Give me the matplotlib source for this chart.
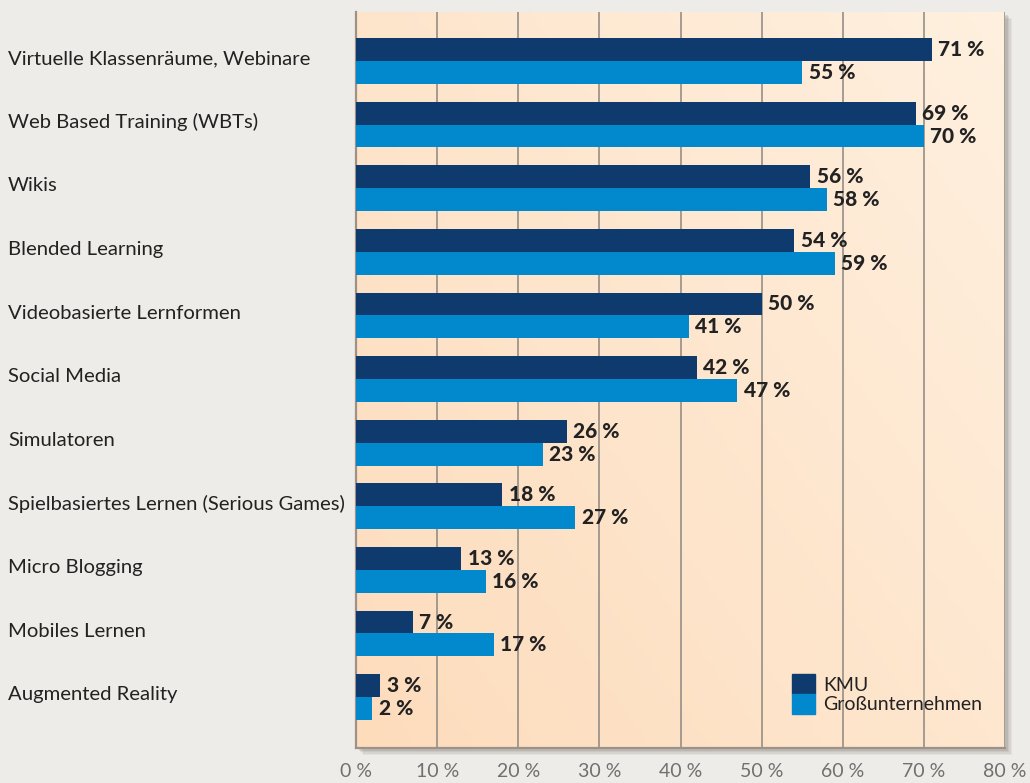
import matplotlib
matplotlib.use('Agg')
import matplotlib.pyplot as plt
import numpy as np
from matplotlib.patches import Rectangle, Patch
from matplotlib.colors import LinearSegmentedColormap

# data
categories = ['Virtuelle Klassenräume, Webinare', 'Web Based Training (WBTs)', 'Wikis',
              'Blended Learning', 'Videobasierte Lernformen', 'Social Media', 'Simulatoren',
              'Spielbasiertes Lernen (Serious Games)', 'Micro Blogging', 'Mobiles Lernen',
              'Augmented Reality']
kmu = [71, 69, 56, 54, 50, 42, 26, 18, 13, 7, 3]
gross = [55, 70, 58, 59, 41, 47, 23, 27, 16, 17, 2]
series_names = ['KMU', 'Großunternehmen']
xticks = [0, 10, 20, 30, 40, 50, 60, 70, 80]

NAVY = '#0e3a6e'
BLUE = '#0288cc'
TXT = '#222222'
plt.rcParams['font.family'] = ['Lato', 'DejaVu Sans']

fig = plt.figure(figsize=(10.3, 7.83), dpi=100, facecolor='#eeece8')
W, H = 1030, 783
left, right, top, bottom = 356, 1005, 12, 748
ax = fig.add_axes([left / W, 1 - bottom / H, (right - left) / W, (bottom - top) / H])
ax.set_zorder(2)

# drop shadow behind the plot area
for i, a in enumerate([0.08, 0.10, 0.12, 0.16]):
    off = 7 - i * 1.5
    fig.patches.append(Rectangle(((left + off) / W, 1 - (bottom + off) / H),
                                 (right - left) / W, (bottom - top) / H,
                                 transform=fig.transFigure, color='#6e6a66',
                                 alpha=a, zorder=0, lw=0))

y = np.arange(len(categories))
h = 0.36
ylim = (len(categories) - 0.2, -0.77)

# peach gradient background
gx, gy = np.meshgrid(np.linspace(0, 1, 200), np.linspace(0, 1, 200))
grad = (1 - gx) * 0.55 + gy * 0.45
cmap = LinearSegmentedColormap.from_list('peach', ['#fff0df', '#fddcbc'])
ax.imshow(grad, extent=(0, 80, ylim[0], ylim[1]), aspect='auto', cmap=cmap,
          origin='upper', zorder=0)

ax.barh(y - h / 2, kmu, height=h, color=NAVY, zorder=3)
ax.barh(y + h / 2, gross, height=h, color=BLUE, zorder=3)

for yi, v in zip(y - h / 2, kmu):
    ax.text(v + 0.8, yi, f'{v} %', va='center', ha='left', fontsize=15,
            fontweight='black', color=TXT, zorder=4)
for yi, v in zip(y + h / 2, gross):
    ax.text(v + 0.8, yi, f'{v} %', va='center', ha='left', fontsize=15,
            fontweight='black', color=TXT, zorder=4)

ax.set_xlim(0, 80)
ax.set_ylim(*ylim)
ax.set_xticks(xticks)
ax.set_xticklabels([f'{t} %' for t in xticks], fontsize=14, color='#707070')
ax.set_yticks(y - 0.06)
ax.set_yticklabels(categories, fontsize=14.6, color=TXT, ha='left')
ax.tick_params(axis='y', length=0, pad=(left - 8) * 0.72)
ax.tick_params(axis='x', length=0, pad=11)
ax.grid(axis='x', color='#8c8781', lw=1.1, zorder=1)
ax.set_axisbelow(True)
for s in ['top', 'right']:
    ax.spines[s].set_visible(False)
for s in ['left', 'bottom']:
    ax.spines[s].set_color('#9d9188')
    ax.spines[s].set_linewidth(1.6)

handles = [Patch(color=NAVY), Patch(color=BLUE)]
ax.legend(handles, series_names, loc='upper left', bbox_to_anchor=(792 / W, 1 - 674 / H),
          bbox_transform=fig.transFigure, frameon=False, fontsize=14,
          handlelength=1.2, handleheight=1.2, handletextpad=0.4,
          labelspacing=0.0, borderpad=0, borderaxespad=0, labelcolor=TXT)

fig.savefig('out.png', dpi=100, facecolor=fig.get_facecolor())
